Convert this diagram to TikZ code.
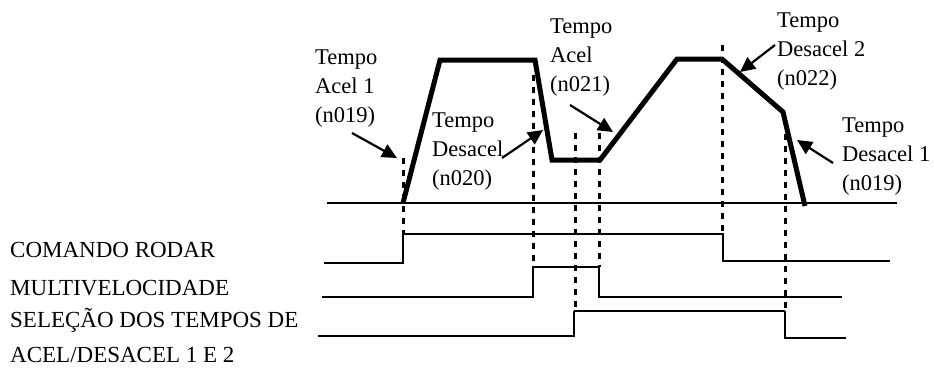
\documentclass[tikz,border=0pt]{standalone}
\usepackage{fontspec}
\setmainfont{Liberation Serif}
\usetikzlibrary{arrows.meta}
\begin{document}
\begin{tikzpicture}[x=1pt,y=-1pt,
  lbl/.style={anchor=base west,inner sep=0pt,align=left,font=\fontsize{22.5}{28.8}\selectfont},
  sig/.style={anchor=base west,inner sep=0pt,font=\fontsize{23}{28}\selectfont},
  speed/.style={line width=5pt,line join=miter},
  wave/.style={line width=2.8pt},
  guide/.style={line width=3pt,dash pattern=on 6pt off 6pt},
  ptr/.style={line width=2.2pt,-{Triangle[length=15pt,width=14pt]}}]
\useasboundingbox (0,0) rectangle (934,368);
% axis
\coordinate (ax0) at (327,203);
\coordinate (ax1) at (897,203);
\draw[line width=2.4pt] (ax0) -- (ax1);
% guide lines
\coordinate (g1t) at (403,158); \coordinate (g1b) at (403,234);
\coordinate (g2t) at (533,75);  \coordinate (g2b) at (533,267);
\coordinate (g3t) at (575,133); \coordinate (g3b) at (575,311);
\coordinate (g4t) at (599,133); \coordinate (g4b) at (599,267);
\coordinate (g5t) at (722,45);  \coordinate (g5b) at (722,234);
\coordinate (g6t) at (785,122); \coordinate (g6b) at (785,311);
\foreach \g in {1,...,6} \draw[guide] (g\g t) -- (g\g b);
% speed profile
\coordinate (s0) at (403,203);
\coordinate (s1) at (440,60);
\coordinate (s2) at (535,60);
\coordinate (s3) at (552,160);
\coordinate (s4) at (600,160);
\coordinate (s5) at (677,59);
\coordinate (s6) at (722,59);
\coordinate (s7) at (783,112);
\coordinate (s8) at (805,206);
\draw[speed] (s0) -- (s1) -- (s2) -- (s3) -- (s4) -- (s5) -- (s6) -- (s7) -- (s8);
% signals
\draw[wave] (324,263) -- (403,263) -- (403,234) -- (723,234) -- (723,261) -- (890,261);
\draw[wave] (322,297) -- (533,297) -- (533,267) -- (599,267) -- (599,297) -- (842,297);
\draw[wave] (318,336) -- (574,336) -- (574,311);
\draw[line width=2pt] (574,311) -- (785,311);
\draw[wave] (785,311) -- (785,338) -- (846,338);
% signal labels
\node[sig] (l1) at (10,257) {COMANDO RODAR};
\node[sig] (l2) at (10,295) {MULTIVELOCIDADE};
\node[sig] (l3) at (10,327) {SELEÇÃO DOS TEMPOS DE};
\node[sig] (l4) at (10,362) {ACEL/DESACEL 1 E 2};
% time labels (anchored at baseline of last line)
\node[lbl] (t1) at (315,122) {Tempo\\Acel 1\\(n019)};
\node[lbl] (t2) at (432,185) {Tempo\\Desacel\\(n020)};
\node[lbl] (t3) at (550,91) {Tempo\\Acel\\(n021)};
\node[lbl] (t4) at (777,85) {Tempo\\Desacel 2\\(n022)};
\node[lbl] (t5) at (842,190) {Tempo\\Desacel 1\\(n019)};
% pointers
\coordinate (a1s) at (352,133); \coordinate (a1e) at (397,158);
\coordinate (a2s) at (502,158); \coordinate (a2e) at (543,130);
\coordinate (a3s) at (570,105); \coordinate (a3e) at (613,132);
\coordinate (a4s) at (775,45);  \coordinate (a4e) at (740,72);
\coordinate (a5s) at (833,163); \coordinate (a5e) at (797,140);
\foreach \a in {1,...,5} \draw[ptr] (a\a s) -- (a\a e);
\end{tikzpicture}
\end{document}
